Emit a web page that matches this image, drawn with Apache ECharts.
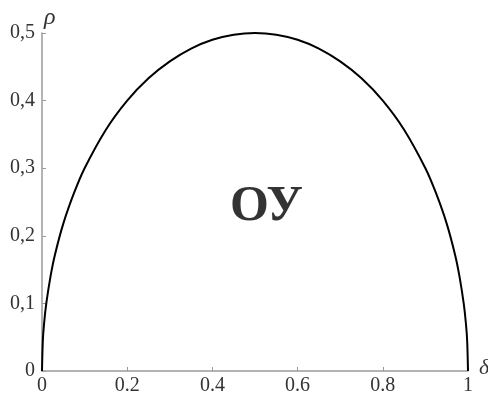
<!DOCTYPE html>
<html>
<head>
<meta charset="utf-8">
<script src="https://cdn.jsdelivr.net/npm/echarts@6/dist/echarts.min.js"></script>
<style>
  html, body { margin: 0; padding: 0; background: #fff; }
  #chart { width: 488px; height: 398px; }
</style>
</head>
<body>
<div id="chart"></div>
<script>
// Boundary curve rho(delta) of the region
const delta = [0, 0.002, 0.005, 0.01, 0.02, 0.03, 0.05, 0.075, 0.1, 0.15, 0.2, 0.25, 0.3, 0.35, 0.4, 0.45,
               0.5, 0.55, 0.6, 0.65, 0.7, 0.75, 0.8, 0.85, 0.9, 0.925, 0.95, 0.97, 0.98, 0.99, 0.995, 0.998, 1];
const rho = [0, 0.045, 0.071, 0.0995, 0.14, 0.171, 0.218, 0.263, 0.3, 0.357, 0.4, 0.433, 0.458, 0.477, 0.49, 0.4975,
             0.5, 0.4975, 0.49, 0.477, 0.458, 0.433, 0.4, 0.357, 0.3, 0.263, 0.218, 0.171, 0.14, 0.0995, 0.071, 0.045, 0];
const xTickLabels = ['0', '0.2', '0.4', '0.6', '0.8', '1'];
const yTickLabels = ['0', '0,1', '0,2', '0,3', '0,4', '0,5'];
const regionLabel = 'ОУ';
const regionPos = [0.527, 0.243];

const chart = echarts.init(document.getElementById('chart'));
const axisGray = '#9a9a9a';

chart.setOption({
  animation: false,
  grid: { left: 42, right: 20, top: 33, bottom: 27, outerBoundsMode: 'none' },
  xAxis: {
    type: 'value', min: 0, max: 1, interval: 0.2,
    name: 'δ', nameLocation: 'end', nameGap: 4,
    nameTextStyle: { fontFamily: 'Liberation Serif', fontStyle: 'italic', fontSize: 22, color: '#333', verticalAlign: 'bottom', padding: [0, 0, -8, 0] },
    axisLine: { lineStyle: { color: axisGray, width: 1.5 } },
    axisTick: { show: true, inside: true, length: 4, lineStyle: { color: axisGray } },
    splitLine: { show: false },
    axisLabel: {
      fontFamily: 'Liberation Serif', fontSize: 20, color: '#333', margin: 5,
      formatter: (v, i) => xTickLabels[i]
    }
  },
  yAxis: {
    type: 'value', min: 0, max: 0.5, interval: 0.1,
    name: 'ρ', nameLocation: 'end', nameGap: 3,
    nameTextStyle: { fontFamily: 'Liberation Serif', fontStyle: 'italic', fontSize: 24, color: '#333', align: 'left', padding: [0, 0, 0, 2] },
    axisLine: { show: true, lineStyle: { color: axisGray, width: 1.5 } },
    axisTick: { show: true, inside: true, length: 4, lineStyle: { color: axisGray } },
    splitLine: { show: false },
    axisLabel: {
      fontFamily: 'Liberation Serif', fontSize: 20, color: '#333', margin: 7,
      formatter: (v, i) => yTickLabels[i]
    }
  },
  series: [
    {
      type: 'line',
      data: delta.map((d, i) => [d, rho[i]]),
      showSymbol: false,
      smooth: 0.3,
      lineStyle: { color: '#000', width: 2 },
      z: 3
    },
    {
      type: 'scatter',
      data: [regionPos],
      symbolSize: 0,
      label: {
        show: true, position: 'inside', formatter: regionLabel,
        fontFamily: 'Liberation Serif', fontWeight: 'bold', fontSize: 50, color: '#000'
      }
    }
  ]
});
</script>
</body>
</html>
